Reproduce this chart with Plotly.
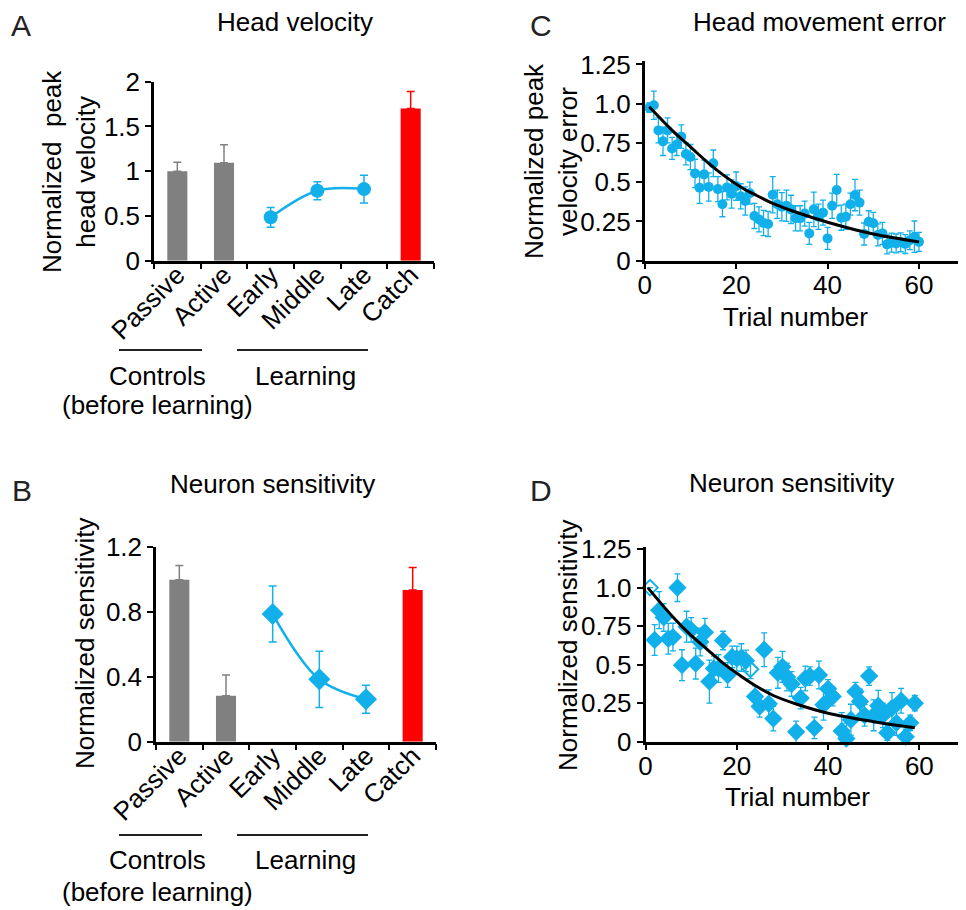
import plotly.graph_objects as go

# ---------------- data ----------------
categories = ["Passive", "Active", "Early", "Middle", "Late", "Catch"]
control_cats = ["Passive", "Active"]
learning_cats = ["Early", "Middle", "Late"]
catch_cat = ["Catch"]

# Panel A: head velocity
A_control = [1.0, 1.095]
A_control_err = [0.10, 0.20]
A_learning = [0.485, 0.782, 0.80]
A_learning_err = [0.11, 0.10, 0.155]
A_catch = [1.70]
A_catch_err = [0.19]

# Panel B: neuron sensitivity
B_control = [1.0, 0.284]
B_control_err = [0.088, 0.128]
B_learning = [0.788, 0.385, 0.262]
B_learning_err = [0.173, 0.174, 0.087]
B_catch = [0.936]
B_catch_err = [0.14]

# Panel C: head movement error by trial
C_trials = [1, 2, 3, 4, 5, 6, 7, 8, 9, 10, 11, 12, 13, 14, 15, 16, 17, 18, 19, 20,
            21, 22, 23, 24, 25, 26, 27, 28, 29, 30, 31, 32, 33, 34, 35, 36, 37, 38, 39, 40,
            41, 42, 43, 44, 45, 46, 47, 48, 49, 50, 51, 52, 53, 54, 55, 56, 57, 58, 59, 60]
C_vals = [0.975, 0.99, 0.83, 0.76, 0.83, 0.715, 0.74, 0.79, 0.68, 0.66,
          0.556, 0.465, 0.55, 0.47, 0.62, 0.456, 0.36, 0.467, 0.425, 0.475,
          0.41, 0.38, 0.43, 0.285, 0.263, 0.24, 0.234, 0.42, 0.36, 0.344,
          0.35, 0.327, 0.27, 0.27, 0.30, 0.174, 0.327, 0.28, 0.306, 0.142,
          0.35, 0.45, 0.274, 0.28, 0.36, 0.418, 0.37, 0.17, 0.248, 0.238,
          0.164, 0.174, 0.104, 0.115, 0.11, 0.117, 0.106, 0.13, 0.153, 0.12]
C_err = [0.03, 0.09, 0.08, 0.09, 0.08, 0.07, 0.07, 0.075, 0.07, 0.08,
         0.09, 0.1, 0.09, 0.09, 0.085, 0.08, 0.08, 0.08, 0.09, 0.09,
         0.08, 0.09, 0.07, 0.08, 0.08, 0.08, 0.08, 0.115, 0.09, 0.09,
         0.1, 0.09, 0.08, 0.08, 0.08, 0.07, 0.11, 0.08, 0.08, 0.07,
         0.08, 0.1, 0.08, 0.08, 0.07, 0.1, 0.08, 0.07, 0.07, 0.07,
         0.07, 0.07, 0.06, 0.06, 0.06, 0.06, 0.06, 0.06, 0.1, 0.06]
C_fit_t = [1, 6, 10, 14, 17, 21, 24.5, 28, 33, 40, 50, 60]
C_fit_y = [0.98, 0.83, 0.725, 0.62, 0.55, 0.47, 0.415, 0.365, 0.31, 0.245, 0.17, 0.12]

# Panel D: neuron sensitivity by trial
D_trials = [1, 2, 3, 4, 5, 6, 7, 8, 9, 10, 11, 12, 13, 14, 15, 16, 17, 18, 19, 20,
            21, 22, 23, 24, 25, 26, 27, 28, 29, 30, 31, 32, 33, 34, 35, 36, 37, 38, 39, 40,
            41, 43, 44, 45, 46, 47, 48, 49, 50, 51, 52, 53, 54, 55, 56, 57, 58, 59]
D_vals = [1.0, 0.66, 0.854, 0.807, 0.668, 0.679, 1.0, 0.497, 0.747, 0.726,
          0.507, 0.647, 0.711, 0.39, 0.475, 0.475, 0.657, 0.433, 0.55, 0.54,
          0.546, 0.525, 0.47, 0.293, 0.229, 0.597, 0.246, 0.15, 0.447, 0.486,
          0.42, 0.375, 0.064, 0.283, 0.41, 0.426, 0.09, 0.433, 0.24, 0.343,
          0.293, 0.069, 0.02, 0.143, 0.325, 0.261, 0.171, 0.426, 0.171, 0.233,
          0.171, 0.058, 0.218, 0.122, 0.266, 0.032, 0.122, 0.25]
D_err = [0.0, 0.1, 0.12, 0.09, 0.1, 0.09, 0.09, 0.1, 0.1, 0.08,
         0.1, 0.09, 0.09, 0.14, 0.08, 0.09, 0.06, 0.08, 0.07, 0.08,
         0.09, 0.07, 0.06, 0.07, 0.07, 0.11, 0.09, 0.08, 0.1, 0.1,
         0.09, 0.08, 0.07, 0.07, 0.08, 0.06, 0.07, 0.09, 0.1, 0.06,
         0.06, 0.12, 0.1, 0.1, 0.06, 0.08, 0.07, 0.06, 0.1, 0.1,
         0.08, 0.05, 0.1, 0.08, 0.08, 0.05, 0.05, 0.05]
D_open_trials = [1, 23]
D_fit_t = [0.5, 6, 10, 13.5, 17, 20.7, 24.3, 28, 33, 40, 50, 59]
D_fit_y = [1.0, 0.81, 0.69, 0.60, 0.51, 0.43, 0.36, 0.30, 0.245, 0.185, 0.13, 0.09]

# ---------------- style ----------------
PAGE_OFF = 8            # default body margin of the html page
W, H = 966 - PAGE_OFF, 910 - PAGE_OFF
FONT = "Arial, Liberation Sans, sans-serif"
BLUE = "#12B0EA"
GRAY = "#808080"
RED = "#FF0000"
FS = 26


def px(x):
    return (x - PAGE_OFF) / W


def py(y):
    return 1 - (y - PAGE_OFF) / H


fig = go.Figure()

# ---- Panel A ----
fig.add_trace(go.Bar(x=control_cats, y=A_control, width=0.43, marker=dict(color=GRAY, line=dict(width=0)),
                     error_y=dict(type="data", symmetric=False, array=A_control_err, arrayminus=[0, 0],
                                  color=GRAY, thickness=1.5, width=4),
                     xaxis="x", yaxis="y", showlegend=False))
fig.add_trace(go.Bar(x=catch_cat, y=A_catch, width=0.43, marker=dict(color=RED, line=dict(width=0)),
                     error_y=dict(type="data", symmetric=False, array=A_catch_err, arrayminus=[0],
                                  color=RED, thickness=1.5, width=4),
                     xaxis="x", yaxis="y", showlegend=False))
fig.add_trace(go.Scatter(x=learning_cats, y=A_learning, mode="lines+markers",
                         line=dict(color=BLUE, width=2.5, shape="spline"),
                         marker=dict(symbol="circle", size=14, color=BLUE),
                         error_y=dict(type="data", array=A_learning_err, color=BLUE, thickness=1.5, width=4),
                         xaxis="x", yaxis="y", showlegend=False))

# ---- Panel B ----
fig.add_trace(go.Bar(x=control_cats, y=B_control, width=0.43, marker=dict(color=GRAY, line=dict(width=0)),
                     error_y=dict(type="data", symmetric=False, array=B_control_err, arrayminus=[0, 0],
                                  color=GRAY, thickness=1.5, width=4),
                     xaxis="x2", yaxis="y2", showlegend=False))
fig.add_trace(go.Bar(x=catch_cat, y=B_catch, width=0.43, marker=dict(color=RED, line=dict(width=0)),
                     error_y=dict(type="data", symmetric=False, array=B_catch_err, arrayminus=[0],
                                  color=RED, thickness=1.5, width=4),
                     xaxis="x2", yaxis="y2", showlegend=False))
fig.add_trace(go.Scatter(x=learning_cats, y=B_learning, mode="lines+markers",
                         line=dict(color=BLUE, width=2.5, shape="spline"),
                         marker=dict(symbol="diamond", size=17, color=BLUE),
                         error_y=dict(type="data", array=B_learning_err, color=BLUE, thickness=1.5, width=4),
                         xaxis="x2", yaxis="y2", showlegend=False))

# ---- Panel C ----
fig.add_trace(go.Scatter(x=C_trials, y=C_vals, mode="markers",
                         marker=dict(symbol="circle", size=10, color=BLUE),
                         error_y=dict(type="data", array=C_err, color=BLUE, thickness=1.3, width=3),
                         cliponaxis=False, xaxis="x3", yaxis="y3", showlegend=False))
fig.add_trace(go.Scatter(x=C_fit_t, y=C_fit_y, mode="lines",
                         line=dict(color="black", width=3, shape="spline"),
                         xaxis="x3", yaxis="y3", showlegend=False))

# ---- Panel D ----
D_symbols = ["diamond-open" if t in D_open_trials else "diamond" for t in D_trials]
fig.add_trace(go.Scatter(x=D_trials, y=D_vals, mode="markers",
                         marker=dict(symbol=D_symbols, size=12, color=BLUE, line=dict(color=BLUE, width=2)),
                         error_y=dict(type="data", array=D_err, color=BLUE, thickness=1.3, width=3),
                         cliponaxis=False, xaxis="x4", yaxis="y4", showlegend=False))
fig.add_trace(go.Scatter(x=D_fit_t, y=D_fit_y, mode="lines",
                         line=dict(color="black", width=3, shape="spline"),
                         xaxis="x4", yaxis="y4", showlegend=False))

axis_common = dict(showline=True, linecolor="black", linewidth=2.5, ticks="outside", ticklen=6,
                   tickwidth=2, tickcolor="black", showgrid=False, zeroline=False, automargin=False,
                   tickfont=dict(family=FONT, size=FS, color="black"))

cat_x = dict(axis_common, type="category", categoryorder="array", categoryarray=categories,
             range=[-0.5, 5.5], tickson="boundaries", tickangle=-45, ticklabelstandoff=-14)

trial_x = dict(axis_common, range=[0, 70], tickvals=[0, 20, 40, 60], ticklabelstandoff=-7)

fig.update_layout(
    width=W, height=H, autosize=False,
    margin=dict(l=0, r=0, t=0, b=0, pad=0),
    paper_bgcolor="white", plot_bgcolor="white",
    barmode="overlay",
    font=dict(family=FONT, size=FS, color="black"),
    xaxis=dict(cat_x, domain=[px(154), px(434)], anchor="y"),
    yaxis=dict(axis_common, domain=[py(260.7), py(81.7)], range=[0, 2], anchor="x",
               tickvals=[0, 0.5, 1, 1.5, 2], ticktext=["0", "0.5", "1", "1.5", "2"]),
    xaxis2=dict(cat_x, domain=[px(156), px(436)], anchor="y2"),
    yaxis2=dict(axis_common, domain=[py(741.7), py(547.3)], range=[0, 1.2], anchor="x2",
                tickvals=[0, 0.4, 0.8, 1.2], ticktext=["0", "0.4", "0.8", "1.2"]),
    xaxis3=dict(trial_x, domain=[px(644.7), px(964.7)], anchor="y3"),
    yaxis3=dict(axis_common, domain=[py(260.7), py(61.3)], range=[0, 1.27], anchor="x3",
                tickvals=[0, 0.25, 0.5, 0.75, 1.0, 1.25], ticktext=["0", "0.25", "0.5", "0.75", "1.0", "1.25"]),
    xaxis4=dict(trial_x, domain=[px(645.5), px(965)], anchor="y4"),
    yaxis4=dict(axis_common, domain=[py(741.7), py(547.3)], range=[0, 1.262], anchor="x4",
                tickvals=[0, 0.25, 0.5, 0.75, 1.0, 1.25], ticktext=["0", "0.25", "0.5", "0.75", "1.0", "1.25"]),
)


def ann(text, x, y, size=FS, angle=0, color="black"):
    fig.add_annotation(text=text, x=px(x), y=py(y), xref="paper", yref="paper",
                       xanchor="center", yanchor="middle", showarrow=False, textangle=angle,
                       font=dict(family=FONT, size=size, color=color))


# panel letters
ann("A", 21, 26, size=30, color="#222222")
ann("B", 22, 490, size=30, color="#222222")
ann("C", 541, 26, size=30, color="#222222")
ann("D", 541, 490, size=30, color="#222222")

# titles
ann("Head velocity", 295, 22)
ann("Neuron sensitivity", 272, 484)
ann("Head movement error", 819, 22)
ann("Neuron sensitivity", 791, 483)

# y-axis titles
ann("Normalized  peak<br>head velocity", 69, 172, angle=-90)
ann("Normalized sensitivity", 85, 644, angle=-90)
ann("Normalized peak<br>velocity error", 551, 161, angle=-90)
ann("Normalized sensitivity", 568, 646, angle=-90)

# x-axis titles
ann("Trial number", 795, 317)
ann("Trial number", 797, 797)

# group labels under A and B
for line_y, t1_y, t2_y in [(350, 376, 405), (835, 860, 892)]:
    for x0, x1 in [(119, 202), (237, 368)]:
        fig.add_shape(type="line", xref="paper", yref="paper", x0=px(x0), x1=px(x1),
                      y0=py(line_y), y1=py(line_y), line=dict(color="#222222", width=1.8))
    ann("Controls", 157, t1_y)
    ann("(before learning)", 157, t2_y)
    ann("Learning", 305, t1_y)

fig.write_html("out.html")
